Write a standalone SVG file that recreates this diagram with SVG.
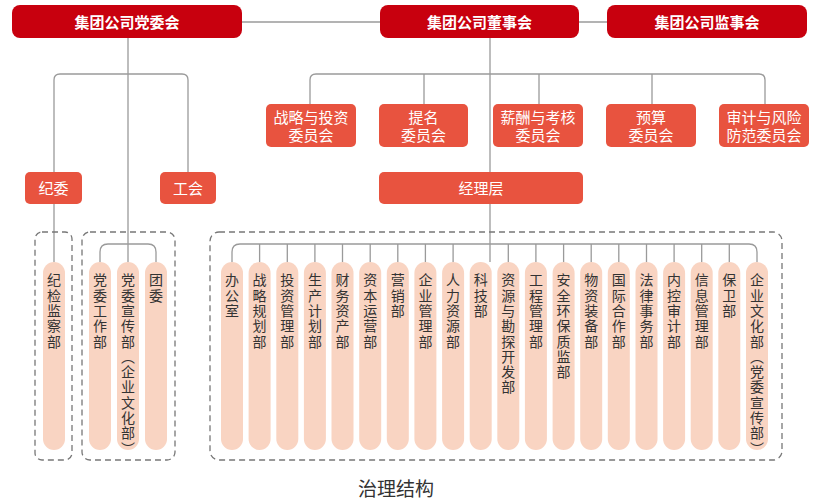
<svg xmlns="http://www.w3.org/2000/svg" width="830" height="500" viewBox="0 0 830 500">
<style>
.top{fill:#C8000E}
.mid{fill:#E8533F}
.pill{fill:#F9D4C2}
.tt{font-family:"Noto Sans CJK SC","Noto Sans",sans-serif;font-size:15px;font-weight:bold;fill:#fff;text-anchor:middle}
.mt{font-family:"Noto Sans CJK SC","Noto Sans",sans-serif;font-size:15px;fill:#fff;text-anchor:middle}
.pt{font-family:"Noto Sans CJK SC","Noto Sans",sans-serif;font-size:14px;fill:#333;writing-mode:vertical-rl;letter-spacing:1.3px}
.ln{fill:none;stroke:#9A9A9A;stroke-width:1.3}
.dash{fill:none;stroke:#777;stroke-width:1.3;stroke-dasharray:6 4}
.cap{font-family:"Noto Sans CJK SC","Noto Sans",sans-serif;font-size:19px;fill:#333;text-anchor:middle}
</style>
<rect width="830" height="500" fill="#fff"/>
<g id="connectors">
<path class="ln" d="M242 22H380M579 22H607"/>
<path class="ln" d="M128 38V262"/>
<path class="ln" d="M54 172V80Q54 74 60 74H182Q188 74 188 80V172"/>
<path class="ln" d="M54 204V262"/>
<path class="ln" d="M100 262V252Q100 244 108 244H148Q156 244 156 252V262"/>
<path class="ln" d="M490 38V172M490 204V262"/>
<path class="ln" d="M310 104V80Q310 74 316 74H759Q765 74 765 80V104M424 74V104M539 74V104M652 74V104"/>
<path class="ln" d="M232 262V252Q232 244 240 244H749Q757 244 757 252V262M259.6 244V262M287.3 244V262M314.9 244V262M342.5 244V262M370.2 244V262M397.8 244V262M425.4 244V262M453.1 244V262M508.3 244V262M535.9 244V262M563.6 244V262M591.2 244V262M618.8 244V262M646.5 244V262M674.1 244V262M701.7 244V262M729.3 244V262"/>
</g>
<g id="groups">
<rect class="dash" x="35" y="232" width="37" height="228" rx="7"/>
<rect class="dash" x="82" y="232" width="93" height="228" rx="8"/>
<rect class="dash" x="210" y="232" width="572" height="228" rx="9"/>
</g>
<g id="party"><rect class="top" x="12" y="5" width="230" height="33" rx="8"/><text class="tt" x="127" y="27.5">集团公司党委会</text></g>
<g id="board"><rect class="top" x="380" y="5" width="199" height="33" rx="8"/><text class="tt" x="479.5" y="27.5">集团公司董事会</text></g>
<g id="supervisory"><rect class="top" x="607" y="5" width="200" height="33" rx="8"/><text class="tt" x="707" y="27.5">集团公司监事会</text></g>
<g id="c-strategy"><rect class="mid" x="266" y="104" width="90" height="43" rx="5"/><text class="mt" y="122.5"><tspan x="311">战略与投资</tspan><tspan x="311" dy="18">委员会</tspan></text></g>
<g id="c-nomination"><rect class="mid" x="379" y="104" width="89" height="43" rx="5"/><text class="mt" y="122.5"><tspan x="423.5">提名</tspan><tspan x="423.5" dy="18">委员会</tspan></text></g>
<g id="c-salary"><rect class="mid" x="493" y="104" width="90" height="43" rx="5"/><text class="mt" y="122.5"><tspan x="538">薪酬与考核</tspan><tspan x="538" dy="18">委员会</tspan></text></g>
<g id="c-budget"><rect class="mid" x="606" y="104" width="90" height="43" rx="5"/><text class="mt" y="122.5"><tspan x="651">预算</tspan><tspan x="651" dy="18">委员会</tspan></text></g>
<g id="c-audit"><rect class="mid" x="719" y="104" width="90" height="43" rx="5"/><text class="mt" y="122.5"><tspan x="764">审计与风险</tspan><tspan x="764" dy="18">防范委员会</tspan></text></g>
<g id="discipline"><rect class="mid" x="25" y="172" width="57" height="32" rx="5"/><text class="mt" x="53.5" y="193.5">纪委</text></g>
<g id="union"><rect class="mid" x="160" y="172" width="56" height="32" rx="5"/><text class="mt" x="188" y="193.5">工会</text></g>
<g id="management"><rect class="mid" x="379" y="172" width="204" height="32" rx="5"/><text class="mt" x="481" y="193.5">经理层</text></g>
<g id="d-jjjc"><rect class="pill" x="43" y="262" width="22" height="188" rx="11"/><text class="pt" x="54" y="273">纪检监察部</text></g>
<g id="d-dwgz"><rect class="pill" x="89" y="262" width="22" height="188" rx="11"/><text class="pt" x="100" y="273">党委工作部</text></g>
<g id="d-dwxc"><rect class="pill" x="117" y="262" width="22" height="188" rx="11"/><text class="pt" x="128" y="273">党委宣传部（企业文化部）</text></g>
<g id="d-tw"><rect class="pill" x="145" y="262" width="22" height="188" rx="11"/><text class="pt" x="156" y="273">团委</text></g>
<g id="d1"><rect class="pill" x="221" y="262" width="22" height="188" rx="11"/><text class="pt" x="232" y="273">办公室</text></g>
<g id="d2"><rect class="pill" x="248.6" y="262" width="22" height="188" rx="11"/><text class="pt" x="259.6" y="273">战略规划部</text></g>
<g id="d3"><rect class="pill" x="276.3" y="262" width="22" height="188" rx="11"/><text class="pt" x="287.3" y="273">投资管理部</text></g>
<g id="d4"><rect class="pill" x="303.9" y="262" width="22" height="188" rx="11"/><text class="pt" x="314.9" y="273">生产计划部</text></g>
<g id="d5"><rect class="pill" x="331.5" y="262" width="22" height="188" rx="11"/><text class="pt" x="342.5" y="273">财务资产部</text></g>
<g id="d6"><rect class="pill" x="359.2" y="262" width="22" height="188" rx="11"/><text class="pt" x="370.2" y="273">资本运营部</text></g>
<g id="d7"><rect class="pill" x="386.8" y="262" width="22" height="188" rx="11"/><text class="pt" x="397.8" y="273">营销部</text></g>
<g id="d8"><rect class="pill" x="414.4" y="262" width="22" height="188" rx="11"/><text class="pt" x="425.4" y="273">企业管理部</text></g>
<g id="d9"><rect class="pill" x="442.1" y="262" width="22" height="188" rx="11"/><text class="pt" x="453.1" y="273">人力资源部</text></g>
<g id="d10"><rect class="pill" x="469.7" y="262" width="22" height="188" rx="11"/><text class="pt" x="480.7" y="273">科技部</text></g>
<g id="d11"><rect class="pill" x="497.3" y="262" width="22" height="188" rx="11"/><text class="pt" x="508.3" y="273">资源与勘探开发部</text></g>
<g id="d12"><rect class="pill" x="524.9" y="262" width="22" height="188" rx="11"/><text class="pt" x="535.9" y="273">工程管理部</text></g>
<g id="d13"><rect class="pill" x="552.6" y="262" width="22" height="188" rx="11"/><text class="pt" x="563.6" y="273">安全环保质监部</text></g>
<g id="d14"><rect class="pill" x="580.2" y="262" width="22" height="188" rx="11"/><text class="pt" x="591.2" y="273">物资装备部</text></g>
<g id="d15"><rect class="pill" x="607.8" y="262" width="22" height="188" rx="11"/><text class="pt" x="618.8" y="273">国际合作部</text></g>
<g id="d16"><rect class="pill" x="635.5" y="262" width="22" height="188" rx="11"/><text class="pt" x="646.5" y="273">法律事务部</text></g>
<g id="d17"><rect class="pill" x="663.1" y="262" width="22" height="188" rx="11"/><text class="pt" x="674.1" y="273">内控审计部</text></g>
<g id="d18"><rect class="pill" x="690.7" y="262" width="22" height="188" rx="11"/><text class="pt" x="701.7" y="273">信息管理部</text></g>
<g id="d19"><rect class="pill" x="718.3" y="262" width="22" height="188" rx="11"/><text class="pt" x="729.3" y="273">保卫部</text></g>
<g id="d20"><rect class="pill" x="746" y="262" width="22" height="188" rx="11"/><text class="pt" x="757" y="273">企业文化部（党委宣传部）</text></g>
<text class="cap" x="396" y="496">治理结构</text>
</svg>
